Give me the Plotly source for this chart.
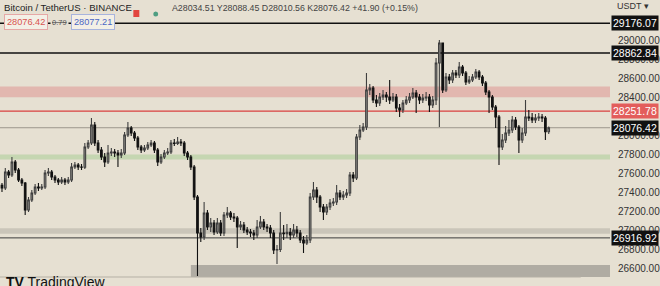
import plotly.graph_objects as go

# ---- data ----
closes = [27442, 27611, 27579, 27716, 27632, 27526, 27495, 27211, 27316, 27389,
          27453, 27442, 27453, 27600, 27611, 27558, 27526, 27505, 27526, 27505,
          27526, 27663, 27684, 27663, 27660, 27874, 27916, 28105, 27916, 27842,
          27768, 27716, 27811, 27821, 27811, 27789, 27811, 28000, 28074, 28021,
          27968, 27874, 27842, 27863, 27895, 27916, 27842, 27716, 27768, 27811,
          27821, 27916, 27910, 27926, 27916, 27811, 27768, 27663, 27347, 26968,
          26926, 27179, 27032, 27074, 26979, 27074, 26968, 27158, 27179, 27137,
          27126, 27032, 27053, 27000, 26979, 26968, 26947, 27032, 27084, 27032,
          27021, 26968, 26789, 26795, 26968, 26960, 26975, 26947, 27000, 26968,
          26895, 26863, 26895, 27347, 27421, 27347, 27242, 27189, 27242, 27284,
          27295, 27389, 27347, 27368, 27389, 27579, 27547, 27979, 28053, 28084,
          28474, 28495, 28368, 28337, 28400, 28421, 28400, 28368, 28400, 28284,
          28263, 28337, 28368, 28400, 28442, 28400, 28368, 28389, 28400, 28316,
          28368, 28758, 28968, 28474, 28611, 28579, 28653, 28632, 28716, 28653,
          28558, 28579, 28611, 28663, 28611, 28547, 28453, 28400, 28295, 28189,
          27874, 27947, 28021, 28053, 28158, 28084, 27947, 28021, 28189, 28180,
          28158, 28179, 28189, 28179, 28034.51, 28076.42]

highs = [27495, 27653, 27632, 27768, 27737, 27653, 27547, 27505, 27347, 27421,
         27484, 27495, 27484, 27632, 27653, 27632, 27579, 27547, 27558, 27547,
         27558, 27705, 27716, 27705, 27695, 27916, 27947, 28179, 28137, 27947,
         27874, 27811, 27895, 27863, 27853, 27842, 27853, 28032, 28137, 28095,
         28042, 27989, 27895, 27895, 27926, 27947, 27937, 27863, 27800, 27842,
         27863, 27947, 27958, 27979, 27958, 27937, 27832, 27789, 27684, 27368,
         27021, 27295, 27211, 27126, 27105, 27126, 27105, 27189, 27242, 27200,
         27179, 27147, 27095, 27084, 27032, 27011, 27000, 27105, 27147, 27116,
         27063, 27053, 27000, 26842, 27189, 27053, 27063, 27021, 27063, 27042,
         27000, 26937, 26947, 27389, 27505, 27453, 27368, 27274, 27274, 27326,
         27337, 27474, 27421, 27411, 27432, 27611, 27611, 28011, 28105, 28126,
         28653, 28537, 28516, 28421, 28442, 28474, 28453, 28579, 28442, 28432,
         28326, 28368, 28411, 28442, 28495, 28474, 28432, 28432, 28453, 28432,
         28411, 28811, 29000, 28916, 28653, 28642, 28684, 28684, 28768, 28737,
         28674, 28621, 28642, 28695, 28684, 28632, 28568, 28474, 28421, 28316,
         28210, 28011, 28095, 28158, 28200, 28189, 28105, 28074, 28368, 28263,
         28232, 28221, 28232, 28221, 28200, 28088.45]

lows = [27400, 27421, 27547, 27558, 27600, 27505, 27463, 27158, 27189, 27295,
        27368, 27411, 27421, 27432, 27568, 27526, 27495, 27474, 27484, 27474,
        27484, 27505, 27642, 27632, 27632, 27642, 27853, 27895, 27884, 27811,
        27737, 27663, 27695, 27779, 27768, 27663, 27758, 27789, 27979, 27989,
        27937, 27842, 27811, 27821, 27842, 27874, 27811, 27674, 27695, 27747,
        27789, 27800, 27884, 27895, 27884, 27779, 27737, 27632, 27316, 26516,
        26874, 26895, 27000, 26979, 26947, 26958, 26937, 26937, 27126, 27105,
        27084, 26811, 27000, 26968, 26947, 26926, 26895, 26916, 27011, 27000,
        26979, 26916, 26747, 26642, 26768, 26895, 26916, 26895, 26916, 26926,
        26863, 26758, 26842, 26863, 27316, 27284, 27189, 27105, 27158, 27211,
        27253, 27263, 27316, 27316, 27337, 27358, 27505, 27526, 27947, 28032,
        28053, 28421, 28337, 28295, 28305, 28368, 28347, 28326, 28347, 28242,
        28189, 28232, 28316, 28337, 28379, 28232, 28326, 28337, 28358, 28242,
        28284, 28316, 28084, 28442, 28453, 28537, 28547, 28600, 28600, 28621,
        28526, 28537, 28558, 28589, 28579, 28516, 28421, 28232, 28263, 28074,
        27684, 27842, 27916, 27989, 28021, 28053, 27811, 27916, 27989, 28147,
        28126, 28126, 28147, 28137, 27947, 28010.56]

first_open = 27470
opens = [first_open] + closes[:-1]
highs = [max(h, o, c) for h, o, c in zip(highs, opens, closes)]
lows = [min(l, o, c) for l, o, c in zip(lows, opens, closes)]
idx = list(range(len(closes)))

# horizontal levels and zones
level_prices = [29176.07, 28862.84, 28251.78, 28076.42, 26916.92]
level_colors = ["#111111", "#111111", "#d9413f", "#9c968b", "#3c3c3c"]
level_widths = [1.6, 1.6, 1.4, 1.0, 1.0]
label_bg = ["#111111", "#111111", "#e35d5b", "#111111", "#111111"]

zone_lo = [28398, 27742, 26960, 26505]
zone_hi = [28510, 27795, 27018, 26632]
zone_start = [-0.6, -0.6, -0.6, 57.0]
zone_colors = ["rgba(222,150,145,0.55)", "rgba(170,205,150,0.55)",
               "rgba(150,145,140,0.35)", "rgba(140,137,132,0.6)"]

tick_vals = [26400, 26600, 26800, 27000, 27200, 27400, 27600, 27800,
             28000, 28400, 28600, 28800, 29000]

BG = "#e6e0d2"
W, H = 660, 286
PLOT_W = 613
X_RANGE = [-0.6, 183.5]
Y_RANGE = [26410.5, 29421]


def px(x):
    return x / PLOT_W


def py(y):
    return 1 - y / H


fig = go.Figure()
fig.add_trace(go.Candlestick(
    x=idx, open=opens, high=highs, low=lows, close=closes,
    increasing=dict(line=dict(color="#3f3f3f", width=1.1), fillcolor="#9e9c97"),
    decreasing=dict(line=dict(color="#111111", width=1.1), fillcolor="#111111"),
    whiskerwidth=0, showlegend=False, hoverinfo="skip"))

shapes = []
for lo, hi, x0, col in zip(zone_lo, zone_hi, zone_start, zone_colors):
    shapes.append(dict(type="rect", xref="x", yref="y", x0=x0, x1=X_RANGE[1],
                       y0=lo, y1=hi, fillcolor=col, line=dict(width=0), layer="below"))
for p, c, w in zip(level_prices, level_colors, level_widths):
    shapes.append(dict(type="line", xref="paper", yref="y", x0=0, x1=1, y0=p, y1=p,
                       line=dict(color=c, width=w), layer="below"))
# bottom separator
shapes.append(dict(type="line", xref="paper", yref="paper", x0=0, x1=0.952,
                   y0=py(277), y1=py(277), line=dict(color="#b5b0a5", width=1)))
# red flag icon & green dot
shapes.append(dict(type="rect", xref="paper", yref="paper", x0=px(134), x1=px(140),
                   y0=py(17), y1=py(10), fillcolor="#e2453f", line=dict(width=0)))
shapes.append(dict(type="circle", xref="paper", yref="paper", x0=px(154), x1=px(159),
                   y0=py(16.5), y1=py(11.5), fillcolor="#4f9e82", line=dict(width=0)))

annotations = []
FONT = "Liberation Sans, Arial, sans-serif"
for p, bg in zip(level_prices, label_bg):
    annotations.append(dict(xref="paper", yref="y", x=1, y=p, xanchor="left",
                            yanchor="middle", xshift=1, text=f"{p:.2f}", showarrow=False,
                            bgcolor=bg, borderpad=1,
                            font=dict(color="#ffffff", size=10.5, family=FONT)))
annotations += [
    dict(xref="paper", yref="paper", x=px(2), y=py(7), xanchor="left", yanchor="middle",
         text="Bitcoin / TetherUS · BINANCE", showarrow=False,
         font=dict(size=9.6, color="#222222", family=FONT)),
    dict(xref="paper", yref="paper", x=px(171), y=py(7.5), xanchor="left", yanchor="middle",
         text="A28034.51 Y28088.45 D28010.56 K28076.42 +41.90 (+0.15%)", showarrow=False,
         font=dict(size=8.8, color="#444444", family=FONT)),
    dict(xref="paper", yref="paper", x=px(4), y=py(22.5), xanchor="left", yanchor="middle",
         text="28076.42", showarrow=False, bgcolor="#f3efe6", bordercolor="#e6a8a6",
         borderwidth=1, borderpad=2, font=dict(size=9.2, color="#d9534f", family=FONT)),
    dict(xref="paper", yref="paper", x=px(50), y=py(22.5), xanchor="left", yanchor="middle",
         text="<s>0.79</s>", showarrow=False, bgcolor=BG,
         font=dict(size=7.5, color="#555555", family=FONT)),
    dict(xref="paper", yref="paper", x=px(71), y=py(22.5), xanchor="left", yanchor="middle",
         text="28077.21", showarrow=False, bgcolor="#f3efe6", bordercolor="#a8b4dd",
         borderwidth=1, borderpad=2, font=dict(size=9.2, color="#4a66c4", family=FONT)),
    dict(xref="paper", yref="paper", x=px(618), y=py(6), xanchor="left", yanchor="middle",
         text="USDT ▾", showarrow=False, font=dict(size=9, color="#333333", family=FONT)),
    dict(xref="paper", yref="paper", x=px(4), y=py(282), xanchor="left", yanchor="middle",
         text="<b>TV</b> TradingView", showarrow=False,
         font=dict(size=14, color="#111111", family=FONT)),
]

fig.update_layout(
    width=W, height=H, margin=dict(l=0, r=W - PLOT_W, t=0, b=0),
    paper_bgcolor=BG, plot_bgcolor=BG, shapes=shapes, annotations=annotations,
    xaxis=dict(range=X_RANGE, showgrid=False, zeroline=False, showticklabels=False,
               rangeslider=dict(visible=False), fixedrange=True),
    yaxis=dict(range=Y_RANGE, side="right", showgrid=False, zeroline=False,
               tickvals=tick_vals, ticktext=[f"{v:.2f}" for v in tick_vals],
               ticks="", ticklabelstandoff=7,
               tickfont=dict(size=10, color="#333333", family=FONT), fixedrange=True),
)

fig.write_html("out.html", config={"displayModeBar": False})
